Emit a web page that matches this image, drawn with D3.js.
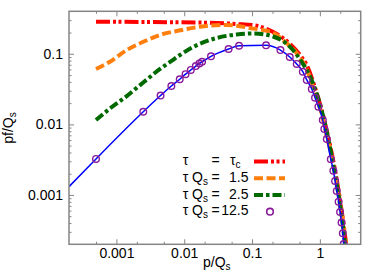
<!DOCTYPE html>
<html><head><meta charset="utf-8">
<script src="https://cdn.jsdelivr.net/npm/d3@7"></script>
<style>
body{margin:0;background:#fff}
text{font-family:"Liberation Sans",Arial,Helvetica,sans-serif;fill:#000}
</style>
</head><body>
<svg id="c" width="374" height="280"></svg>
<script>
// ---------- data ----------
const xTickValues = [0.001, 0.01, 0.1, 1];
const xTickLabels = ["0.001", "0.01", "0.1", "1"];
const yTickValues = [0.001, 0.01, 0.1];
const yTickLabels = ["0.001", "0.01", "0.1"];
const xMinorMult = [2, 5];
const yMinorMult = [2, 3, 4, 5, 6, 7, 8, 9];

const legendTau = ["τc", "1.5", "2.5", "12.5"];

// tau = tau_c  [p/Qs, pf/Qs]
const seriesTauC = [
  [0.0005,0.285],[0.00313,0.282],[0.0171,0.277],[0.0601,0.264],[0.111,0.252],
  [0.166,0.224],[0.259,0.179],[0.364,0.138],[0.511,0.0962],[0.670,0.0630],
  [0.849,0.0328],[1.042,0.0171],[1.276,0.0078],[1.567,0.00313],[1.857,0.00126],
  [2.128,0.000538],[2.438,0.000202]
];
// tau Qs = 1.5
const series15 = [
  [0.0005,0.0610],[0.000805,0.0773],[0.00142,0.113],[0.00249,0.148],[0.00440,0.185],
  [0.00867,0.215],[0.0171,0.242],[0.0424,0.256],[0.0935,0.232],[0.206,0.197],
  [0.325,0.141],[0.456,0.1016],[0.627,0.0630],[0.822,0.0307],[1.042,0.0150],
  [1.276,0.00664],[1.567,0.00284],[1.857,0.00118],[2.128,0.000505],[2.438,0.000202]
];
// tau Qs = 2.5
const series25 = [
  [0.0005,0.0115],[0.000805,0.0168],[0.00142,0.0252],[0.00249,0.0393],[0.00440,0.0610],
  [0.00618,0.0766],[0.00867,0.0962],[0.01361,0.125],[0.0266,0.162],[0.0594,0.188],
  [0.1035,0.194],[0.204,0.176],[0.364,0.125],[0.511,0.0830],[0.718,0.0474],
  [0.942,0.0237],[1.153,0.0115],[1.415,0.00463],[1.675,0.00192],[1.986,0.000721],
  [2.355,0.000202]
];
// tau Qs = 12.5 (points)
const series125 = [
  [0.0005,0.00324],[0.00249,0.0151],[0.00448,0.0256],[0.00646,0.0350],[0.00859,0.0436],
  [0.01045,0.0514],[0.0125,0.0590],[0.01483,0.0671],[0.01671,0.0729],[0.01832,0.0771],
  [0.02483,0.0922],[0.0451,0.117],[0.0643,0.130],[0.161,0.132],[0.262,0.113],
  [0.360,0.0901],[0.456,0.0718],[0.560,0.0557],[0.641,0.0426],[0.760,0.0317],
  [0.849,0.0239],[0.951,0.0178],[1.104,0.0115],[1.164,0.00861],[1.265,0.00621],
  [1.449,0.00321],[1.582,0.00221],[1.675,0.00158],[1.774,0.00114],[1.888,0.000804],
  [1.986,0.000574],[2.089,0.000407],[2.178,0.000287],[2.244,0.000202]
];
// solid fit line through the tau Qs = 12.5 points, starting at the left edge
const line125Start = [[0.0002,0.00131]];

// ---------- layout ----------
const svg = d3.select("#c");
const L = 69, R = 360.7, T = 11.3, B = 244.3;
const x = d3.scaleLog().domain([0.0002, 4]).range([L, R]);
const y = d3.scaleLog().domain([0.0002, 0.4]).range([B, T]);
const frameColor = "#858585";

function minors(domain, mult) {
  const out = [];
  for (let e = -5; e <= 1; e++) for (const m of mult) {
    const v = m * Math.pow(10, e);
    if (v > domain[0] * 1.0001 && v < domain[1] * 0.9999) out.push(+v.toPrecision(3));
  }
  return out;
}
const xMinor = minors(x.domain(), xMinorMult);
const yMinor = minors(y.domain(), yMinorMult);

function styleAxis(g) {
  g.select(".domain").remove();
  g.selectAll("line").attr("stroke", frameColor).attr("stroke-width", 1);
  g.selectAll("text").attr("font-size", 14).attr("fill", "#000")
    .attr("font-family", '"Liberation Sans",Arial,sans-serif');
}

// bottom
svg.append("g").attr("transform", `translate(0,${B})`)
  .call(d3.axisBottom(x).tickValues(xTickValues).tickSize(-5).tickPadding(4)
    .tickFormat((d, i) => xTickLabels[i])).call(styleAxis);
svg.append("g").attr("transform", `translate(0,${B})`)
  .call(d3.axisBottom(x).tickValues(xMinor).tickSize(-2.5).tickFormat("")).call(styleAxis);
// top
svg.append("g").attr("transform", `translate(0,${T})`)
  .call(d3.axisTop(x).tickValues(xTickValues).tickSize(-5).tickFormat("")).call(styleAxis);
svg.append("g").attr("transform", `translate(0,${T})`)
  .call(d3.axisTop(x).tickValues(xMinor).tickSize(-2.5).tickFormat("")).call(styleAxis);
// left
svg.append("g").attr("transform", `translate(${L},0)`)
  .call(d3.axisLeft(y).tickValues(yTickValues).tickSize(-5).tickPadding(6)
    .tickFormat((d, i) => yTickLabels[i])).call(styleAxis);
svg.append("g").attr("transform", `translate(${L},0)`)
  .call(d3.axisLeft(y).tickValues(yMinor).tickSize(-2.5).tickFormat("")).call(styleAxis);
// right
svg.append("g").attr("transform", `translate(${R},0)`)
  .call(d3.axisRight(y).tickValues(yTickValues).tickSize(-5).tickFormat("")).call(styleAxis);
svg.append("g").attr("transform", `translate(${R},0)`)
  .call(d3.axisRight(y).tickValues(yMinor).tickSize(-2.5).tickFormat("")).call(styleAxis);

// clip
svg.append("clipPath").attr("id", "clip").append("rect")
  .attr("x", L).attr("y", T).attr("width", R - L).attr("height", B - T);
const plot = svg.append("g").attr("clip-path", "url(#clip)");

const line = d3.line().x(d => x(d[0])).y(d => y(d[1])).curve(d3.curveMonotoneX);

const styles = [
  {data: seriesTauC, color: "#ff0000", dash: "14,3,3,2.5,3,3", w: 4},
  {data: series15, color: "#ff7f0e", dash: "9,3.5", w: 4},
  {data: series25, color: "#006a00", dash: "9,3,3.5,3", w: 4}
];
styles.forEach(s => {
  plot.append("path").datum(s.data).attr("d", line).attr("fill", "none")
    .attr("stroke", s.color).attr("stroke-width", s.w).attr("stroke-dasharray", s.dash);
});
plot.append("path").datum(line125Start.concat(series125)).attr("d", line)
  .attr("fill", "none").attr("stroke", "#0000ff").attr("stroke-width", 1.5);
const purple = "#8a1a9a";
plot.selectAll("circle.pt").data(series125).join("circle").attr("class", "pt")
  .attr("cx", d => x(d[0])).attr("cy", d => y(d[1])).attr("r", 3.3)
  .attr("fill", "none").attr("stroke", purple).attr("stroke-width", 1.4);

// frame
svg.append("rect").attr("x", L).attr("y", T).attr("width", R - L).attr("height", B - T)
  .attr("fill", "none").attr("stroke", frameColor).attr("stroke-width", 1.5);

// axis titles
const xt = svg.append("text").attr("x", 203).attr("y", 267).attr("font-size", 14);
xt.append("tspan").text("p/Q");
xt.append("tspan").attr("font-size", 10).attr("dy", 3).text("s");

const yt = svg.append("text").attr("transform", "translate(13,128) rotate(-90)")
  .attr("text-anchor", "middle").attr("font-size", 14);
yt.append("tspan").text("pf/Q");
yt.append("tspan").attr("font-size", 10).attr("dy", 3).text("s");

// legend
const rowY = [165, 181.7, 198.5, 215.3];
const lg = svg.append("g").attr("font-size", 14);
rowY.forEach((ry, i) => {
  const t = lg.append("text").attr("x", 182.7).attr("y", ry);
  if (i === 0) {
    t.text("τ");
  } else {
    t.append("tspan").text("τ Q");
    t.append("tspan").attr("font-size", 10).attr("dy", 3).text("s");
  }
  lg.append("text").attr("x", 211.5).attr("y", ry).text("=");
  if (i === 0) {
    const v = lg.append("text").attr("x", 230).attr("y", ry);
    v.append("tspan").text(legendTau[0].charAt(0));
    v.append("tspan").attr("font-size", 10).attr("dy", 3).text(legendTau[0].slice(1));
  } else {
    lg.append("text").attr("x", 248.5).attr("y", ry).attr("text-anchor", "end").text(legendTau[i]);
  }
  if (i < 3) {
    const s = styles[i];
    lg.append("line").attr("x1", 254).attr("x2", 285).attr("y1", ry - 3.5).attr("y2", ry - 3.5)
      .attr("stroke", s.color).attr("stroke-width", s.w).attr("stroke-dasharray", s.dash);
  } else {
    lg.append("circle").attr("cx", 270).attr("cy", ry - 3.6).attr("r", 3.3)
      .attr("fill", "none").attr("stroke", purple).attr("stroke-width", 1.6);
  }
});
</script>
</body></html>
